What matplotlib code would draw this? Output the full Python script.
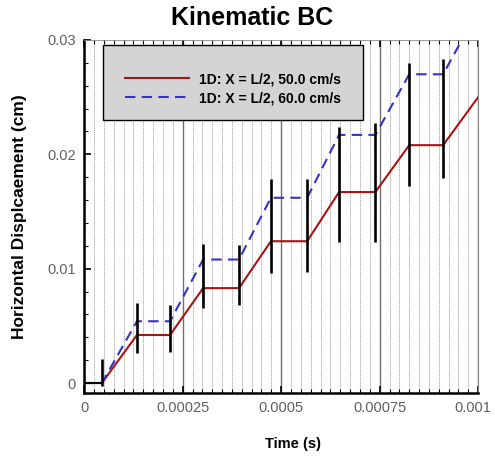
import numpy as np
import matplotlib.pyplot as plt
import matplotlib.transforms as mtransforms
from matplotlib.patches import Rectangle
from matplotlib.ticker import MultipleLocator

plt.rcParams['font.family'] = ['Liberation Sans', 'DejaVu Sans']

# time of each vertex of the piecewise displacement curves (s)
time = [0, 0.000045, 0.000134, 0.000218, 0.000302, 0.000393, 0.000474,
        0.000566, 0.000647, 0.000739, 0.000825, 0.000911, 0.001]
disp_50 = [0, 0, 0.0042, 0.0042, 0.0083, 0.0083, 0.0124, 0.0124,
           0.0167, 0.0167, 0.0208, 0.0208, 0.0250]
disp_60 = [0, 0, 0.0054, 0.0054, 0.0108, 0.0108, 0.0162, 0.0162,
           0.0217, 0.0217, 0.0270, 0.0270, 0.0326]

# black vertical bars at the kinks
bar_t = [0.000045, 0.000134, 0.000218, 0.000302, 0.000393, 0.000474,
         0.000566, 0.000647, 0.000739, 0.000825, 0.000911]
bar_lo = [-0.0003, 0.0026, 0.0027, 0.0066, 0.0068, 0.0096,
          0.0097, 0.0123, 0.0123, 0.0172, 0.0179]
bar_hi = [0.0021, 0.0070, 0.0068, 0.0122, 0.0121, 0.0178,
          0.0178, 0.0224, 0.0227, 0.0280, 0.0283]

# initial rest segment (drawn in black)
rest_t = [0, 0.000045]
rest_d = [0, 0]

labels = ['1D: X = L/2, 50.0 cm/s', '1D: X = L/2, 60.0 cm/s']

fig = plt.figure(figsize=(4.95, 4.57), dpi=100)
ax = fig.add_axes([0.170, 0.140, 0.796, 0.7725])

# grid
ax.set_xlim(0, 0.001)
ax.set_ylim(-0.000875, 0.03)
ax.xaxis.set_major_locator(MultipleLocator(0.00025))
ax.xaxis.set_minor_locator(MultipleLocator(0.000025))
ax.yaxis.set_major_locator(MultipleLocator(0.01))
ax.yaxis.set_minor_locator(MultipleLocator(0.002))
ax.grid(True, axis='x', which='minor', color='#9a9a9a', linestyle=(0, (1, 1)), lw=0.7)
ax.grid(True, axis='x', which='major', color='#707070', linestyle='-', lw=1.0)
ax.set_axisbelow(True)

l1, = ax.plot(time, disp_50, color='#a81414', lw=1.5, zorder=3)
l2, = ax.plot(time, disp_60, color='#3434c0', lw=1.5, ls=(0, (5, 3)), zorder=3)
ax.plot(rest_t, rest_d, color='black', lw=1.5, zorder=4)
ax.vlines(bar_t, bar_lo, bar_hi, color='black', lw=1.9, zorder=5)

ax.set_xticks([0, 0.00025, 0.0005, 0.00075, 0.001])
ax.set_xticklabels(['0', '0.00025', '0.0005', '0.00075', '0.001'])
ax.set_yticks([0, 0.01, 0.02, 0.03])
ax.set_yticklabels(['0', '0.01', '0.02', '0.03'])
ax.tick_params(axis='both', which='major', direction='in', length=5, width=1.2,
               labelsize=10.5, labelcolor='#606060', pad=6)
ax.tick_params(axis='both', which='minor', direction='in', length=3, width=0.8)
ax.tick_params(axis='x', which='both', top=True)

# keep the last x label inside the picture
last = ax.get_xticklabels()[-1]
last.set_transform(last.get_transform() +
                   mtransforms.ScaledTranslation(-0.05, 0, fig.dpi_scale_trans))

for s in ['left', 'bottom']:
    ax.spines[s].set_linewidth(1.8)
    ax.spines[s].set_color('black')
ax.spines['top'].set_linewidth(0.6)
ax.spines['top'].set_color('#888888')
ax.spines['right'].set_linewidth(0.8)
ax.spines['right'].set_color('#888888')

ax.set_xlabel('Time (s)', fontsize=10.5, fontweight='bold')
ax.xaxis.set_label_coords(0.53, -0.125)
ax.set_ylabel('Horizontal Displcaement (cm)', fontsize=12.5, fontweight='bold')
ax.yaxis.set_label_coords(-0.145, 0.5)
fig.text(0.51, 0.96, 'Kinematic BC', fontsize=18, fontweight='bold', ha='center', va='center')

# legend box
box = Rectangle((0.048, 0.773), 0.66, 0.213, transform=ax.transAxes,
                facecolor='#d4d4d4', edgecolor='black', lw=1.0, zorder=6)
ax.add_patch(box)
leg = ax.legend([l1, l2], labels, loc='center', bbox_to_anchor=(0.378, 0.862),
                frameon=False, handlelength=4.6, labelspacing=0.35,
                handletextpad=0.7, prop={'weight': 'bold', 'size': 10})
leg.set_zorder(7)

fig.savefig('out.png', dpi=100)
